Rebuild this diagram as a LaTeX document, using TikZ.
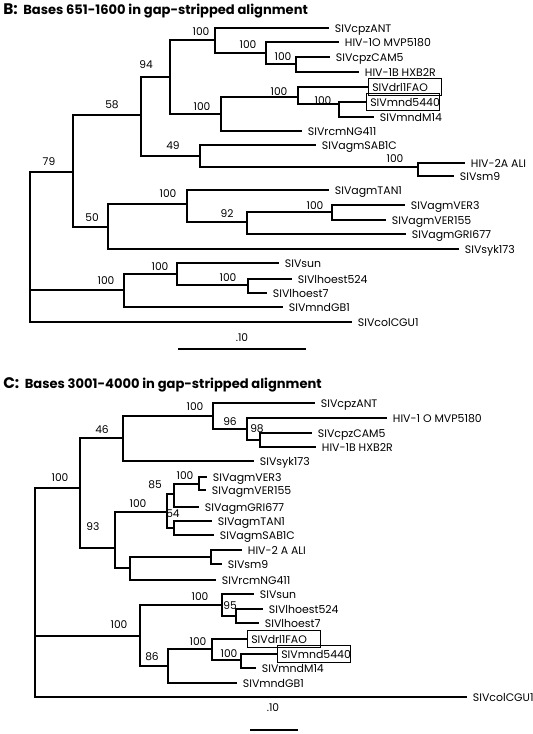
\documentclass[tikz,border=0pt]{standalone}
\usepackage{fontspec}
\setmainfont{Poppins}
\usetikzlibrary{positioning}
\tikzset{
    branch/.style = {line width=1.5pt, line cap=rect},
    taxon/.style = {anchor=west, inner xsep=5pt, inner ysep=0pt, text height=0.7em, text depth=0pt, font=\fontsize{8.2}{10}\selectfont},
    boxed/.style = {taxon, draw=black, thin, inner xsep=3pt, inner ysep=3pt, text width=49pt, align=left},
    boot/.style = {inner sep=0pt, font=\fontsize{8}{10}\selectfont},
    title/.style = {anchor=base west, inner sep=0pt, font=\bfseries\fontsize{9.8}{12}\selectfont},
    scalebar/.style = {line width=1.5pt}
}
\newcommand{\panelletter}[1]{{\fontsize{11.5}{12}\selectfont #1}}

\begin{document}
\begin{tikzpicture}[x=0.75pt, y=-0.75pt]
    \useasboundingbox (0,0) rectangle (532,734);

    % panel B
    \node [title] (titleB) at (3,15) {\panelletter{B:}\ \ Bases 651-1600 in gap-stripped alignment};

    \coordinate (B0) at (30,250);
    \coordinate (B79) at (73,172);
    \coordinate (B58) at (141,115);
    \coordinate (B94) at (170,77);
    \coordinate (Bcpz) at (215,40);
    \coordinate (Bhiv1) at (266,53);
    \coordinate (Bhxb) at (296,64);
    \coordinate (Bmnd) at (221,114);
    \coordinate (Bdrl) at (298,97);
    \coordinate (Bmnd2) at (339,104);
    \coordinate (B49) at (200,156);
    \coordinate (Bhiv2) at (418,167);
    \coordinate (B50) at (108,227);
    \coordinate (Bagm) at (187,204);
    \coordinate (B92) at (247,222);
    \coordinate (Bver) at (332,212);
    \coordinate (Bsun) at (124,290);
    \coordinate (Bsun2) at (177,274);
    \coordinate (Blho) at (248,285);

    \node [taxon] (bANT) at (328,28) {SIVcpzANT};
    \node [taxon] (bMVP) at (338,42) {HIV-1O MVP5180};
    \node [taxon] (bCAM) at (329,57) {SIVcpzCAM5};
    \node [taxon] (bHXB) at (358,72) {HIV-1B HXB2R};
    \node [boxed] (bDRL) at (368,87) {SIVdrl1FAO};
    \node [boxed] (bMND) at (366,102) {SIVmnd5440};
    \node [taxon] (bM14) at (373,117) {SIVmndM14};
    \node [taxon] (bRCM) at (301,131) {SIVrcmNG411};
    \node [taxon] (bSAB) at (315,145) {SIVagmSAB1C};
    \node [taxon] (bALI) at (464,163) {HIV-2A ALI};
    \node [taxon] (bSM9) at (453,176) {SIVsm9};
    \node [taxon] (bTAN) at (328,190) {SIVagmTAN1};
    \node [taxon] (bVER3) at (404,205) {SIVagmVER3};
    \node [taxon] (bVER155) at (385,220) {SIVagmVER155};
    \node [taxon] (bGRI) at (405,234) {SIVagmGRI677};
    \node [taxon] (bSYK) at (458,249) {SIVsyk173};
    \node [taxon] (bSUN) at (278,263) {SIVsun};
    \node [taxon] (bL524) at (291,279) {SIVlhoest524};
    \node [taxon] (bL7) at (266,293) {SIVlhoest7};
    \node [taxon] (bGB1) at (282,307) {SIVmndGB1};
    \node [taxon] (bCOL) at (351,322) {SIVcolCGU1};

    \draw [branch]
        (B0) |- (B79) (B79) |- (B58) (B58) |- (B94) (B94) |- (Bcpz)
        (Bcpz) |- (bANT.west) (Bcpz) |- (Bhiv1) (Bhiv1) |- (bMVP.west)
        (Bhiv1) |- (Bhxb) (Bhxb) |- (bCAM.west) (Bhxb) |- (bHXB.west)
        (B94) |- (Bmnd) (Bmnd) |- (Bdrl) (Bdrl) |- (bDRL.west) (Bdrl) |- (Bmnd2)
        (Bmnd2) |- (bMND.west) (Bmnd2) |- (bM14.west) (Bmnd) |- (bRCM.west)
        (B58) |- (B49) (B49) |- (bSAB.west) (B49) |- (Bhiv2)
        (Bhiv2) |- (bALI.west) (Bhiv2) |- (bSM9.west)
        (B79) |- (B50) (B50) |- (Bagm) (Bagm) |- (bTAN.west) (Bagm) |- (B92)
        (B92) |- (Bver) (Bver) |- (bVER3.west) (Bver) |- (bVER155.west)
        (B92) |- (bGRI.west) (B50) |- (bSYK.west)
        (B0) |- (Bsun) (Bsun) |- (Bsun2) (Bsun2) |- (bSUN.west) (Bsun2) |- (Blho)
        (Blho) |- (bL524.west) (Blho) |- (bL7.west) (Bsun) |- (bGB1.west)
        (B0) |- (bCOL.west);

    \node [boot] (k1) at (201,32) {100};
    \node [boot] (k2) at (248,45) {100};
    \node [boot] (k3) at (283,57) {100};
    \node [boot] (k4) at (146,65) {94};
    \node [boot] (k5) at (279,92) {100};
    \node [boot] (k6) at (202,107) {100};
    \node [boot] (k7) at (323,101) {100};
    \node [boot] (k8) at (112,105) {58};
    \node [boot] (k9) at (173,146) {49};
    \node [boot] (k10) at (395,159) {100};
    \node [boot] (k11) at (49,162) {79};
    \node [boot] (k12) at (92,218) {50};
    \node [boot] (k13) at (168,194) {100};
    \node [boot] (k14) at (227,214) {92};
    \node [boot] (k15) at (315,206) {100};
    \node [boot] (k16) at (106,281) {100};
    \node [boot] (k17) at (160,267) {100};
    \node [boot] (k18) at (228,278) {100};

    \node [boot] (scaleB) at (242,338) {.10};
    \coordinate (sB1) at (178,349);
    \coordinate (sB2) at (306,349);
    \draw [scalebar] (sB1) -- (sB2);

    % panel C
    \node [title] (titleC) at (3,388) {\panelletter{C:}\ \ Bases 3001-4000 in gap-stripped alignment};

    \coordinate (C0) at (35,600);
    \coordinate (Ctop) at (80,488);
    \coordinate (C46) at (123,438);
    \coordinate (Ccpz) at (213,416);
    \coordinate (C96) at (247,429);
    \coordinate (C98) at (260,440);
    \coordinate (C93) at (115,548);
    \coordinate (Cagm) at (167,512);
    \coordinate (C85) at (174,494);
    \coordinate (Cver) at (199,484);
    \coordinate (C54) at (174,528);
    \coordinate (Chiv2) at (130,568);
    \coordinate (Chiv2b) at (211,557);
    \coordinate (Cbot) at (140,636);
    \coordinate (Csun) at (222,605);
    \coordinate (C95) at (236,616);
    \coordinate (C86) at (168,666);
    \coordinate (Cdrl) at (212,649);
    \coordinate (Cmnd) at (241,660);

    \node [taxon] (cANT) at (314,403) {SIVcpzANT};
    \node [taxon] (cMVP) at (386,418) {HIV-1 O MVP5180};
    \node [taxon] (cCAM) at (311,433) {SIVcpzCAM5};
    \node [taxon] (cHXB) at (315,447) {HIV-1B HXB2R};
    \node [taxon] (cSYK) at (253,461) {SIVsyk173};
    \node [taxon] (cVER3) at (206,477) {SIVagmVER3};
    \node [taxon] (cVER155) at (205,490) {SIVagmVER155};
    \node [taxon] (cGRI) at (198,507) {SIVagmGRI677};
    \node [taxon] (cTAN) at (211,521) {SIVagmTAN1};
    \node [taxon] (cSAB) at (213,535) {SIVagmSAB1C};
    \node [taxon] (cALI) at (241,550) {HIV-2 A ALI};
    \node [taxon] (cSM9) at (221,564) {SIVsm9};
    \node [taxon] (cRCM) at (215,580) {SIVrcmNG411};
    \node [taxon] (cSUN) at (253,594) {SIVsun};
    \node [taxon] (cL524) at (262,609) {SIVlhoest524};
    \node [taxon] (cL7) at (258,623) {SIVlhoest7};
    \node [boxed] (cDRL) at (247,639) {SIVdrl1FAO};
    \node [boxed] (cMND) at (277,654) {SIVmnd5440};
    \node [taxon] (cM14) at (255,668) {SIVmndM14};
    \node [taxon] (cGB1) at (236,683) {SIVmndGB1};
    \node [taxon] (cCOL) at (466,697) {SIVcolCGU1};

    \draw [branch]
        (C0) |- (Ctop) (Ctop) |- (C46) (C46) |- (Ccpz) (Ccpz) |- (cANT.west)
        (Ccpz) |- (C96) (C96) |- (cMVP.west) (C96) |- (C98)
        (C98) |- (cCAM.west) (C98) |- (cHXB.west) (C46) |- (cSYK.west)
        (Ctop) |- (C93) (C93) |- (Cagm) (Cagm) |- (C85) (C85) |- (Cver)
        (Cver) |- (cVER3.west) (Cver) |- (cVER155.west) (C85) |- (cGRI.west)
        (Cagm) |- (C54) (C54) |- (cTAN.west) (C54) |- (cSAB.west)
        (C93) |- (Chiv2) (Chiv2) |- (Chiv2b) (Chiv2b) |- (cALI.west)
        (Chiv2b) |- (cSM9.west) (Chiv2) |- (cRCM.west)
        (C0) |- (Cbot) (Cbot) |- (Csun) (Csun) |- (cSUN.west) (Csun) |- (C95)
        (C95) |- (cL524.west) (C95) |- (cL7.west)
        (Cbot) |- (C86) (C86) |- (Cdrl) (Cdrl) |- (cDRL.west) (Cdrl) |- (Cmnd)
        (Cmnd) |- (cMND.west) (Cmnd) |- (cM14.west) (C86) |- (cGB1.west)
        (C0) |- (cCOL.west);

    \node [boot] (m1) at (60,478) {100};
    \node [boot] (m2) at (102,430) {46};
    \node [boot] (m3) at (195,407) {100};
    \node [boot] (m4) at (230,422) {96};
    \node [boot] (m5) at (257,429) {98};
    \node [boot] (m6) at (93,527) {93};
    \node [boot] (m7) at (138,504) {100};
    \node [boot] (m8) at (155,485) {85};
    \node [boot] (m9) at (185,476) {100};
    \node [boot] (m10) at (173,514) {54};
    \node [boot] (m11) at (119,625) {100};
    \node [boot] (m12) at (200,597) {100};
    \node [boot] (m13) at (230,606) {95};
    \node [boot] (m14) at (152,657) {86};
    \node [boot] (m15) at (198,642) {100};
    \node [boot] (m16) at (229,654) {100};

    \node [boot] (scaleC) at (273,708) {.10};
    \coordinate (sC1) at (250,730);
    \coordinate (sC2) at (298,730);
    \draw [scalebar] (sC1) -- (sC2);
\end{tikzpicture}
\end{document}
